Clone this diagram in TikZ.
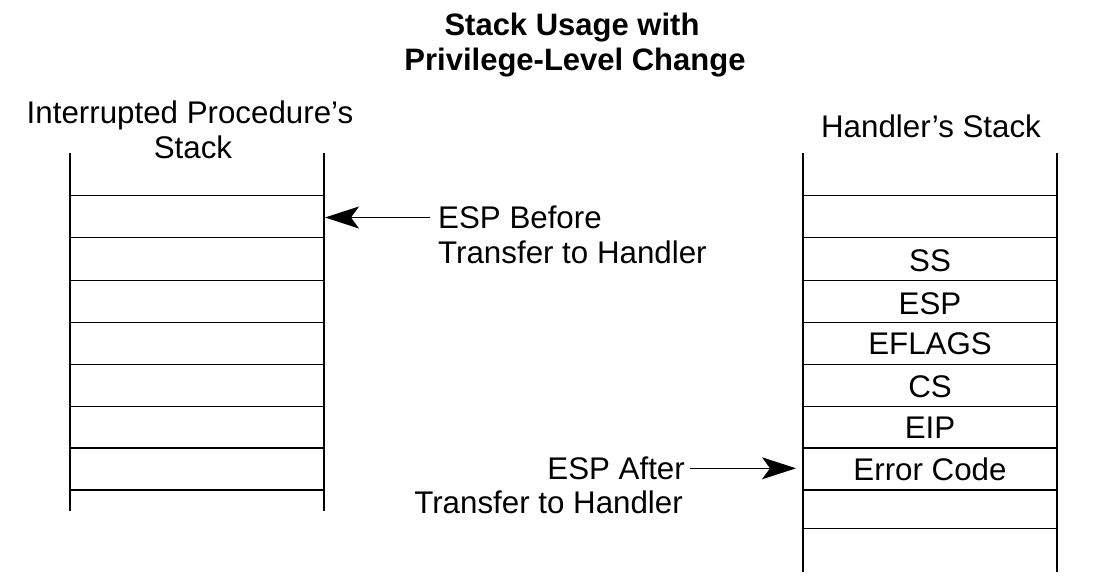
\documentclass[tikz,border=0pt]{standalone}
\usepackage{fontspec}
\setmainfont{Liberation Sans}
\usetikzlibrary{arrows.meta}
\begin{document}
\begin{tikzpicture}[x=1pt,y=-1pt,
  txt/.style={font=\fontsize{31.3}{35}\selectfont, inner sep=0pt},
  ttl/.style={font=\fontsize{31}{35}\selectfont\bfseries, inner sep=0pt, anchor=base},
  capbox/.style={txt, text height=22.4pt, text depth=0pt},
  side/.style={line width=1.8pt},
  sep/.style={line width=1.3pt},
  arr/.style={line width=1.2pt, -{Stealth[length=34pt,width=22pt,inset=8pt]}}
]
\useasboundingbox[fill=white] (0,0) rectangle (1097,588);

% title
\node[ttl] (t1) at (572,36) {Stack Usage with};
\node[ttl] (t2) at (575,71) {Privilege-Level Change};

% headings
\node[txt, anchor=base] (h1) at (190,124) {Interrupted Procedure’s};
\node[txt, anchor=base] (h2) at (193,159) {Stack};
\node[txt, anchor=base] (h3) at (931,138) {Handler’s Stack};

% left stack
\coordinate (LTL) at (70,153);
\coordinate (LBL) at (70,511);
\coordinate (LTR) at (324,153);
\coordinate (LBR) at (324,511);
\draw[side] (LTL) -- (LBL);
\draw[side] (LTR) -- (LBR);
\foreach \y in {195.3,237.7,280.7,322.7,364.7,406.7,448,490}
  \draw[sep] (70,\y) -- (324,\y);

% right stack
\coordinate (RTL) at (803,153);
\coordinate (RBL) at (803,572);
\coordinate (RTR) at (1057,153);
\coordinate (RBR) at (1057,572);
\draw[side] (RTL) -- (RBL);
\draw[side] (RTR) -- (RBR);
\foreach \y in {195.3,237.7,280.7,322.7,364.7,406.7,448,490,528.3}
  \draw[sep] (803,\y) -- (1057,\y);

% right stack contents
\node[capbox] (ss) at (930,260.5) {SS};
\node[capbox] (esp) at (930,303) {ESP};
\node[capbox] (efl) at (930,343.5) {EFLAGS};
\node[capbox] (cs) at (930,386) {CS};
\node[capbox] (eip) at (930,427.5) {EIP};
\node[capbox] (err) at (930,469.5) {Error Code};

% ESP before
\node[capbox, anchor=west] (b1) at (438,217.5) {ESP Before};
\node[txt, anchor=base west] (b2) at (438,263) {Transfer to Handler};
\coordinate (LT) at (325,217.5);
\draw[arr] ([xshift=-8pt]b1.west) -- (LT);

% ESP after
\node[capbox, anchor=east] (a1) at (685,468.3) {ESP After};
\node[txt, anchor=base east] (a2) at (683,513) {Transfer to Handler};
\coordinate (RT) at (796,468.3);
\draw[arr] ([xshift=5pt]a1.east) -- (RT);
\end{tikzpicture}
\end{document}
